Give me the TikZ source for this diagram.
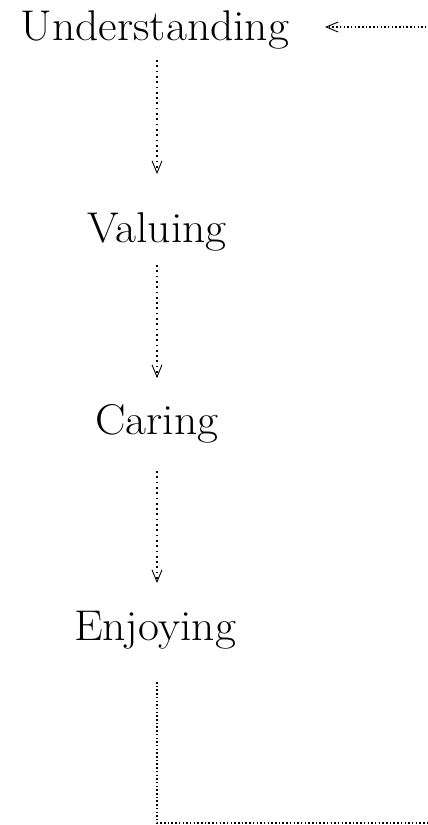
\documentclass[tikz,border=0pt]{standalone}
\usetikzlibrary{arrows.meta}
\begin{document}
\begin{tikzpicture}[x=1pt,y=-1pt,
  word/.style={anchor=base,inner sep=0pt,xscale=1.06,font=\fontsize{43}{43}\selectfont},
  vflow/.style={line width=1.7pt,dash pattern=on 1.7pt off 3.6pt},
  hflow/.style={line width=1.5pt,dash pattern=on 1.5pt off 2.2pt},
  tip/.style={-{Straight Barb[length=12pt,width=10pt,line width=0.9pt,sep=0pt]}}]
\useasboundingbox (0,0) rectangle (428,825);
\node[word] (u) at (155,40) {Understanding};
\node[word] (v) at (157,242) {Valuing};
\node[word] (c) at (157,434) {Caring};
\node[word] (e) at (155,640) {Enjoying};
\coordinate (u1) at (157,60);  \coordinate (v0) at (157,174);
\coordinate (v1) at (157,265); \coordinate (c0) at (157,378);
\coordinate (c1) at (157,471); \coordinate (e0) at (157,583);
\coordinate (e1) at (157,682); \coordinate (b1) at (157,823);
\coordinate (b2) at (430,823); \coordinate (t2) at (430,27);
\coordinate (t1) at (325,27);
\draw[vflow,tip] (u1) -- (v0);
\draw[vflow,tip] (v1) -- (c0);
\draw[vflow,tip] (c1) -- (e0);
\draw[hflow,tip] (e1) -- (b1) -- (b2) -- (t2) -- (t1);
\end{tikzpicture}
\end{document}
